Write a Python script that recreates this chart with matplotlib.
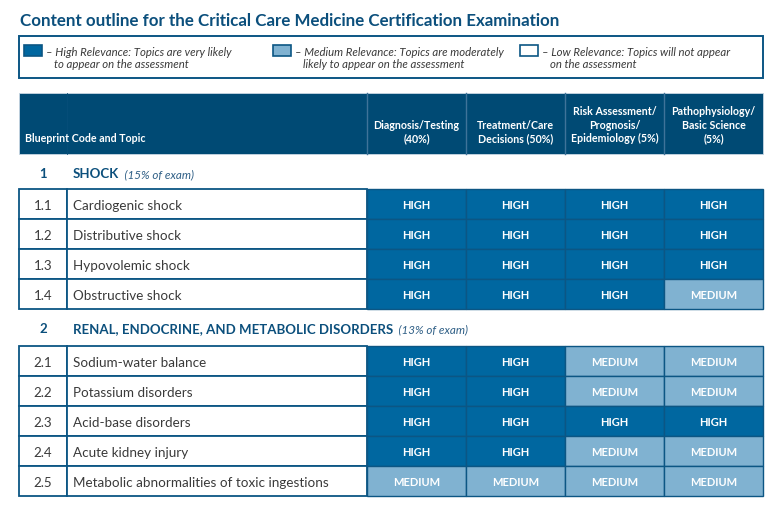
import matplotlib
matplotlib.use("Agg")
import matplotlib.pyplot as plt
from matplotlib.patches import Rectangle

plt.rcParams['font.family'] = ['Lato', 'DejaVu Sans']

# Data
TITLE = "Content outline for the Critical Care Medicine Certification Examination"
LEGEND_LEVELS = ["HIGH", "MEDIUM", "LOW"]
LEGEND_LINE1 = ["\u2013 High Relevance: Topics are very likely",
                "\u2013 Medium Relevance: Topics are moderately",
                "\u2013 Low Relevance: Topics will not appear"]
LEGEND_LINE2 = ["to appear on the assessment",
                "likely to appear on the assessment",
                "on the assessment"]

FIRST_HEADER = "Blueprint Code and Topic"
COLUMN_HEADERS = ["Diagnosis/Testing\n(40%)",
                  "Treatment/Care\nDecisions (50%)",
                  "Risk Assessment/\nPrognosis/\nEpidemiology (5%)",
                  "Pathophysiology/\nBasic Science\n(5%)"]

SECTION_CODES = ["1", "2"]
SECTION_TITLES = ["SHOCK", "RENAL, ENDOCRINE, AND METABOLIC DISORDERS"]
SECTION_SHARES = ["(15% of exam)", "(13% of exam)"]

CODES_1 = ["1.1", "1.2", "1.3", "1.4"]
TOPICS_1 = ["Cardiogenic shock", "Distributive shock",
            "Hypovolemic shock", "Obstructive shock"]
LEVELS_1 = [["HIGH", "HIGH", "HIGH", "HIGH"],
            ["HIGH", "HIGH", "HIGH", "HIGH"],
            ["HIGH", "HIGH", "HIGH", "HIGH"],
            ["HIGH", "HIGH", "HIGH", "MEDIUM"]]

CODES_2 = ["2.1", "2.2", "2.3", "2.4", "2.5"]
TOPICS_2 = ["Sodium-water balance", "Potassium disorders", "Acid-base disorders",
            "Acute kidney injury", "Metabolic abnormalities of toxic ingestions"]
LEVELS_2 = [["HIGH", "HIGH", "MEDIUM", "MEDIUM"],
            ["HIGH", "HIGH", "MEDIUM", "MEDIUM"],
            ["HIGH", "HIGH", "HIGH", "HIGH"],
            ["HIGH", "HIGH", "MEDIUM", "MEDIUM"],
            ["MEDIUM", "MEDIUM", "MEDIUM", "MEDIUM"]]

# Styles
NAVY = "#004a74"
HIGH_BLUE = "#0067a0"
MED_BLUE = "#80b2d1"
EDGE = "#0c5684"
TITLE_BLUE = "#0b4f7c"
GRAY_TEXT = "#3a3a3a"
LEVEL_COLORS = {"HIGH": HIGH_BLUE, "MEDIUM": MED_BLUE, "LOW": "white"}

W, H = 782, 510
LEFT, RIGHT = 19, 763
CODE_RIGHT = 67
COL_EDGES = [367, 466, 565, 664, 763]
ROW_H = 30
TEXT_DROP = 1.5

fig = plt.figure(figsize=(W / 100, H / 100), dpi=100)
ax = fig.add_axes([0, 0, 1, 1])
ax.set_xlim(0, W)
ax.set_ylim(H, 0)
ax.axis("off")

# Title
ax.text(20, 20.5, TITLE, fontsize=12.2, fontweight="bold", color=TITLE_BLUE,
        va="center", ha="left")

# Legend box
ax.add_patch(Rectangle((LEFT, 37), RIGHT - LEFT, 42, facecolor="white",
                       edgecolor=EDGE, linewidth=1.4))
swatch_x = [24, 273, 520]
for sx, level, l1, l2 in zip(swatch_x, LEGEND_LEVELS, LEGEND_LINE1, LEGEND_LINE2):
    ax.add_patch(Rectangle((sx, 46), 18, 11, facecolor=LEVEL_COLORS[level],
                           edgecolor=EDGE, linewidth=1.2))
    ax.text(sx + 22, 52, l1, fontsize=8.2, style="italic", color=GRAY_TEXT,
            va="center", ha="left")
    ax.text(sx + 30, 64.5, l2, fontsize=8.2, style="italic", color=GRAY_TEXT,
            va="center", ha="left")

# Header
ax.add_patch(Rectangle((LEFT, 94), RIGHT - LEFT, 61, facecolor=NAVY,
                       edgecolor="#c9d7e3", linewidth=0.6))
ax.plot([CODE_RIGHT, CODE_RIGHT], [94, 155], color="#064e79", linewidth=0.6)
for xe in COL_EDGES[1:-1] + [COL_EDGES[0]]:
    ax.plot([xe, xe], [94, 155], color="#3f7399", linewidth=1.0)
ax.text(25, 138.5, FIRST_HEADER, fontsize=7.7, fontweight="bold", color="white",
        va="center", ha="left")
for i, label in enumerate(COLUMN_HEADERS):
    xc = (COL_EDGES[i] + COL_EDGES[i + 1]) / 2
    ax.text(xc, 144, label, fontsize=7.7, fontweight="bold", color="white",
            va="bottom", ha="center", linespacing=1.25, multialignment="center")


def draw_section(y_label, y_top, code, title, share, codes, topics, levels):
    ax.text((LEFT + CODE_RIGHT) / 2, y_label, code, fontsize=9.5,
            fontweight="bold", color=TITLE_BLUE, va="center", ha="center")
    t = ax.text(73, y_label, title, fontsize=9.5, fontweight="bold",
                color=TITLE_BLUE, va="center", ha="left")
    ax.annotate("  " + share, xy=(1, 0.5), xycoords=t, fontsize=8.4,
                style="italic", color="#2f5f86", va="center", ha="left")
    for r, (c, topic, row) in enumerate(zip(codes, topics, levels)):
        y0 = y_top + r * ROW_H
        yc = y0 + ROW_H / 2 + TEXT_DROP
        ax.add_patch(Rectangle((LEFT, y0), CODE_RIGHT - LEFT, ROW_H,
                               facecolor="white", edgecolor=EDGE, linewidth=1.3))
        ax.add_patch(Rectangle((CODE_RIGHT, y0), COL_EDGES[0] - CODE_RIGHT, ROW_H,
                               facecolor="white", edgecolor=EDGE, linewidth=1.3))
        ax.text((LEFT + CODE_RIGHT) / 2, yc, c, fontsize=9.6, color=GRAY_TEXT,
                va="center", ha="center")
        ax.text(73, yc, topic, fontsize=9.7, color=GRAY_TEXT, va="center", ha="left")
        for j, level in enumerate(row):
            ax.add_patch(Rectangle((COL_EDGES[j], y0), COL_EDGES[j + 1] - COL_EDGES[j],
                                   ROW_H, facecolor=LEVEL_COLORS[level],
                                   edgecolor=EDGE, linewidth=1.0))
            ax.text((COL_EDGES[j] + COL_EDGES[j + 1]) / 2, y0 + ROW_H / 2 + 1,
                    level, fontsize=8, fontweight="bold", color="white",
                    va="center", ha="center")


draw_section(174.5, 190, SECTION_CODES[0], SECTION_TITLES[0], SECTION_SHARES[0],
             CODES_1, TOPICS_1, LEVELS_1)
draw_section(329.5, 347, SECTION_CODES[1], SECTION_TITLES[1], SECTION_SHARES[1],
             CODES_2, TOPICS_2, LEVELS_2)

fig.savefig("out.png", dpi=100)
